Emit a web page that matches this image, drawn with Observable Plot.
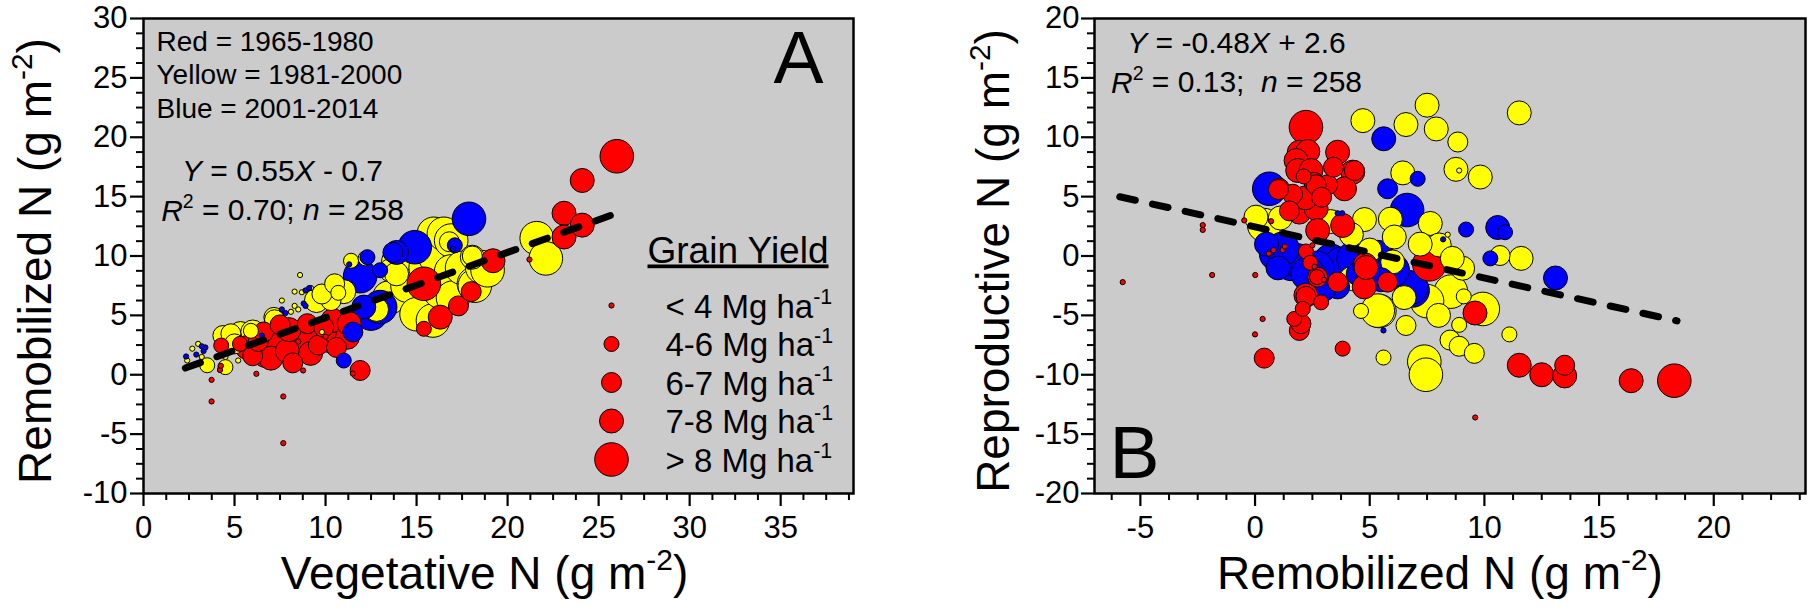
<!DOCTYPE html>
<html><head><meta charset="utf-8">
<script src="https://cdn.jsdelivr.net/npm/d3@7"></script>
<script src="https://cdn.jsdelivr.net/npm/@observablehq/plot@0.6"></script>
<style>
html,body{margin:0;padding:0;background:#fff;overflow:hidden}
#wrap{display:flex;width:1813px;height:609px}
svg{display:block}
</style></head><body><div id="wrap"></div>
<script>
// ---------- data: [x, y, grain-yield class 0..4] ----------
// Panel A: Vegetative N (x) vs Remobilized N (y)
const aRed = [
  [3.74,-0.43,0],[3.74,-2.25,0],[7.68,-1.83,0],[7.68,-5.76,0],[6.2,0.08,0],[8.77,0.36,0],[4.2,0.4,0],[4.25,0.75,0],[11.5,0.1,0],[21.2,9.7,0],[8.5,2.8,0],[10.0,3.2,0],
  [11.9,0.36,2],[4.27,2.46,1],[5.3,2.6,1],
  [5.7,2.3,3],[6.0,1.6,2],[6.3,2.8,2],[6.8,2.0,4],[7.0,1.4,3],[7.35,3.47,4],[6.6,3.6,2],[7.5,4.2,2],[7.9,2.0,3],[8.2,1.0,2],[8.0,3.8,3],[8.63,3.16,4],[9.0,4.3,2],[9.18,1.8,3],[9.6,2.5,2],[9.9,4.0,2],[10.2,2.88,3],[10.6,2.3,2],[10.4,4.57,3],[10.8,3.7,4],[11.2,3.16,3],[11.3,4.3,3],
  [15.4,7.66,4],[16.3,4.85,3],[15.4,3.87,1],[17.3,5.8,2],[18.0,7.0,2],[19.2,9.6,3],[23.1,13.6,3],[23.1,11.6,3],[24.1,12.6,3],[24.1,16.36,3],[26.0,18.4,4]
];
const aYellow = [
  [2.68,2.2,0],[3.2,1.5,0],[3.0,2.6,0],[2.4,1.2,0],[4.5,1.5,0],[5.2,1.2,0],[7.6,6.25,0],[8.7,6.95,0],[8.3,5.8,0],[8.1,5.3,0],[8.5,5.5,0],[9.2,7.3,0],[8.3,7.0,0],[8.6,8.4,0],[9.8,3.6,0],
  [3.5,0.8,1],[4.5,0.64,1],[5.9,3.7,1],[10.7,6.9,1],[11.4,9.6,1],[12.2,9.8,1],
  [4.36,3.3,2],[4.8,3.45,2],[5.0,2.6,2],[7.16,4.83,2],[7.2,4.63,2],[10.3,6.25,2],[9.8,6.8,2],[10.5,7.66,2],[16.8,11.2,2],[18.06,10.0,2],
  [5.33,3.47,3],[6.0,3.6,3],[9.5,6.25,3],[11.0,7.0,3],[12.8,5.5,3],[13.6,8.8,3],[13.9,8.5,3],[18.06,9.9,3],
  [13.5,6.5,4],[14.0,9.5,4],[14.5,7.5,4],[14.8,10.2,4],[15.0,5.1,4],[15.5,9.0,4],[15.9,4.57,4],[15.95,11.87,4],[16.0,10.0,4],[16.3,7.0,4],[16.5,11.87,4],[16.9,11.3,4],[16.9,8.7,4],[17.0,6.5,4],[17.5,9.0,4],[18.15,7.66,4],[18.2,7.5,4],[18.6,9.06,4],[18.9,8.8,4],[21.6,11.5,4],[22.1,9.8,4]
];
const aBlue = [
  [2.34,1.54,0],[2.9,1.7,0],[3.3,2.0,0],[3.4,2.3,0],[3.2,2.4,0],[6.5,3.3,0],[7.6,5.5,0],[7.8,5.2,0],[8.8,6.0,0],[8.9,5.8,0],[8.9,7.1,0],[9.1,7.3,0],[11.3,9.3,0],[17.0,10.6,0],
  [11.0,1.2,1],[12.3,9.9,1],[13.0,8.8,1],[17.1,10.9,1],
  [11.5,3.6,2],[13.7,10.3,2],
  [12.1,5.7,3],[13.9,10.3,3],
  [11.9,8.3,4],[12.5,5.15,4],[13.0,5.7,4],[14.9,10.74,4],[17.88,13.13,4]
];
// Panel B: Remobilized N (x) vs Reproductive N (y)
const bRed = [
  [-5.77,-2.2,0],[-2.28,2.6,0],[-2.28,2.2,0],[-1.87,-1.6,0],[0.01,-1.6,0],[-0.47,3.0,0],[0.7,2.93,0],[0.8,0.5,0],[1.2,0.5,0],[0.6,0.2,0],[1.3,0.8,0],[0.33,-5.3,0],[0.0,-6.6,0],[9.6,-13.6,0],[2.5,0.9,0],[2.6,-0.9,0],[3.0,-2.0,0],
  [2.12,6.7,1],[2.22,0.38,1],[2.41,-0.57,1],[2.7,-1.78,1],[3.82,-7.8,1],[1.71,-5.3,1],[2.08,-4.45,1],[2.88,-3.9,1],
  [1.06,5.7,2],[1.64,5.2,2],[1.5,3.8,2],[2.57,6.2,2],[3.17,6.0,2],[2.66,6.0,2],[2.9,4.95,2],[3.42,7.48,2],[1.02,5.6,2],[2.22,-3.4,2],[1.93,-6.27,2],[3.6,-2.2,2],[5.78,-2.2,2],[13.5,-9.2,2],[2.73,-1.78,2],[0.4,-8.6,2],[2.0,-5.7,2],[4.33,7.2,2],
  [1.93,8.74,3],[2.3,8.8,3],[1.79,8.04,3],[1.86,7.2,3],[2.44,7.2,3],[3.6,8.74,3],[4.26,7.06,3],[3.9,5.66,3],[1.93,3.7,3],[2.66,4.0,3],[3.82,2.57,3],[2.73,2.15,3],[4.8,-0.75,3],[4.76,-2.6,3],[4.84,-0.97,3],[9.59,-4.8,3],[11.52,-9.2,3],[12.5,-10.0,3],[13.5,-10.1,3],[16.4,-10.5,3],[2.22,-3.3,3],[2.2,4.9,3],
  [2.22,10.85,4],[7.6,-0.7,4],[18.28,-10.5,4]
];
const bYellow = [
  [8.9,7.2,0],[8.4,1.8,0],
  [4.62,-4.63,1],[5.6,-8.55,1],[11.09,-6.6,1],[8.9,-5.8,1],[9.1,-3.4,1],
  [10.68,0.04,2],[8.84,9.6,2],[8.5,-7.08,2],[8.9,-7.6,2],[9.56,-8.2,2],[6.58,-5.85,2],
  [11.52,12.05,3],[7.5,12.7,3],[7.9,10.7,3],[6.58,11.07,3],[4.7,11.4,3],[8.76,7.3,3],[9.82,6.65,3],[6.44,7.0,3],[4.77,3.07,3],[5.9,3.1,3],[7.64,2.74,3],[6.07,1.6,3],[8.03,0.93,3],[11.6,-0.2,3],[9.05,-1.03,3],[0.04,3.27,3],[1.1,3.2,3],[6.5,-3.5,3],[3.3,2.9,3],[4.2,1.8,3],
  [5.0,0.5,3],[7.2,1.0,3],[8.6,-0.2,3],[6.0,-0.5,3],[4.2,-1.9,3],[8.0,-5.0,3],
  [8.54,-3.0,4],[9.93,-4.46,4],[5.42,-4.63,4],[7.38,-8.9,4],[7.45,-10.0,4],[5.35,-4.6,4],[0.4,2.6,4],[7.5,-3.8,4]
];
const bBlue = [
  [5.6,-6.27,0],[3.6,3.6,0],[3.8,3.6,0],[8.2,1.4,0],
  [7.09,6.5,1],[10.26,-0.2,1],[9.2,2.23,1],[10.9,2.0,1],
  [5.78,5.66,2],
  [5.61,9.87,3],[10.58,2.4,3],[13.1,-1.85,3],[3.6,-2.6,3],[0.5,1.0,3],[4.5,-1.5,3],[3.0,-2.8,3],[1.0,-1.0,3],[5.5,-2.0,3],
  [0.62,5.66,4],[0.92,0.18,4],[1.57,-0.66,4],[1.86,-0.38,4],[3.3,-0.4,4],[3.75,-0.66,4],[5.35,-0.1,4],[6.87,-2.9,4],[6.63,3.87,4],[6.8,-2.65,4],[2.7,-1.0,4],
  [1.2,0.6,4],[2.3,-1.5,4],[4.3,-0.2,4],[6.0,-1.2,4]
];
// regression lines (slope, intercept, x extent)
const fitA = {slope: 0.55, intercept: -0.7, x0: 2.3, x1: 25.7};
const fitB = {slope: -0.43, intercept: 2.45, x0: -5.9, x1: 18.4};
// texts
const eraLabels = ["Red = 1965-1980", "Yellow = 1981-2000", "Blue = 2001-2014"];
const eqA = ["*Y* = 0.55*X* - 0.7", "*R*^2^ = 0.70; *n* = 258"];
const eqB = ["*Y* = -0.48*X* + 2.6", "*R*^2^ = 0.13;\u00a0 *n* = 258"];
const legendTitle = "_Grain Yield_";
const legendLabels = ["< 4 Mg ha^-1^", "4-6 Mg ha^-1^", "6-7 Mg ha^-1^", "7-8 Mg ha^-1^", "> 8 Mg ha^-1^"];
const ticksA = {x: [0,5,10,15,20,25,30,35], y: [-10,-5,0,5,10,15,20,25,30]};
const ticksB = {x: [-5,0,5,10,15,20], y: [-20,-15,-10,-5,0,5,10,15,20]};

// ---------- styles ----------
const radii = [2.6, 7.5, 10, 12, 16.8];
const fills = {red: "#ff0000", yellow: "#ffff00", blue: "#0000ff"};
const FONT = "'Liberation Sans', Arial, Helvetica, sans-serif";

function rows(yellow, blue, red) {
  const f = (arr, k) => arr.map(([x, y, c]) => ({x, y, c, k}));
  return [...f(yellow, "yellow"), ...f(blue, "blue"), ...f(red, "red")];
}
function fitLine(f) {
  return [f.x0, f.x1].map(x => ({x, y: f.slope * x + f.intercept}));
}
function minor(domain, majors) {
  const out = [];
  for (let v = Math.ceil(domain[0] / 1.25) * 1.25; v <= domain[1] + 1e-9; v += 1.25) {
    if (!majors.some(m => Math.abs(m - v) < 1e-6)) out.push(+v.toFixed(2));
  }
  return out;
}
const note = (t, o) => Plot.text([t], {text: d => d, lineAnchor: "bottom", fill: "black", ...o});

function richText(svg) {
  d3.select(svg).selectAll("text").each(function () {
    const el = this;
    if (el.querySelector("tspan")) return;
    const s = el.textContent;
    if (!/[\^*_]/.test(s)) return;
    const parts = s.split(/(\^[^^]*\^|\*[^*]*\*|_[^_]*_)/).filter(p => p !== "");
    el.textContent = "";
    let raised = false;
    for (const p of parts) {
      const t = document.createElementNS("http://www.w3.org/2000/svg", "tspan");
      if (p[0] === "^") {
        t.textContent = p.slice(1, -1);
        t.setAttribute("font-size", "65%");
        t.setAttribute("dy", "-0.62em");
        raised = true;
      } else {
        if (p[0] === "*") { t.textContent = p.slice(1, -1); t.setAttribute("font-style", "italic"); }
        else if (p[0] === "_") { t.textContent = p.slice(1, -1); t.setAttribute("text-decoration", "underline"); }
        else t.textContent = p;
        if (raised) { t.setAttribute("dy", "0.40em"); raised = false; }
      }
      el.appendChild(t);
    }
  });
  return svg;
}

function panel(cfg) {
  const xMinor = minor(cfg.xDomain, cfg.ticks.x);
  const yMinor = minor(cfg.yDomain, cfg.ticks.y);
  const marks = [
    Plot.frame({fill: "#cbcbcb"}),
    Plot.dot(cfg.data, {x: "x", y: "y", r: d => radii[d.c], fill: d => fills[d.k], stroke: "black", strokeWidth: 1, sort: {channel: "-r"}}),
    Plot.line(cfg.fit, {x: "x", y: "y", stroke: "black", strokeWidth: 7, strokeDasharray: "16,17.5", strokeLinecap: "round"}),
    Plot.frame({stroke: "black", strokeWidth: 2.5}),
    Plot.axisX({ticks: cfg.ticks.x, tickFormat: d => String(d), tickSize: 13, tickPadding: 9, fontSize: 31, strokeWidth: 2.2, label: null, fill: "black", stroke: "black"}),
    Plot.axisX(xMinor, {tickSize: 7, text: null, strokeWidth: 2, label: null, stroke: "black"}),
    Plot.axisY({ticks: cfg.ticks.y, tickFormat: d => String(d), tickSize: 13, tickPadding: cfg.yPad, fontSize: 31, strokeWidth: 2.2, label: null, fill: "black", stroke: "black"}),
    Plot.axisY(yMinor, {tickSize: 7, text: null, strokeWidth: 2, label: null, stroke: "black"}),
    note(cfg.xTitle, {frameAnchor: "bottom", textAnchor: "middle", dx: cfg.xTitleDx, dy: 95, fontSize: 46}),
    note(cfg.yTitle, {frameAnchor: "left", textAnchor: "middle", rotate: -90, dx: cfg.yTitleDx, dy: 5, fontSize: 46}),
    ...cfg.extra
  ];
  return richText(Plot.plot({
    width: cfg.width, height: 609,
    marginLeft: cfg.ml, marginRight: cfg.mr, marginTop: 18, marginBottom: 116,
    x: {domain: cfg.xDomain}, y: {domain: cfg.yDomain},
    r: {type: "identity"}, color: {type: "identity"},
    style: {fontFamily: FONT, color: "black", background: "transparent", overflow: "visible"},
    marks
  }));
}

const extraA = [
  ...eraLabels.map((t, i) => note(t, {frameAnchor: "top-left", textAnchor: "start", dx: 13, dy: 32 + i * 33.5, fontSize: 28})),
  ...eqA.map((t, i) => note(t, {frameAnchor: "top-left", textAnchor: "middle", dx: 139, dy: 162 + i * 40, fontSize: 30})),
  note("A", {frameAnchor: "top-right", textAnchor: "end", dx: -30, dy: 64, fontSize: 75}),
  note(legendTitle, {frameAnchor: "top-left", textAnchor: "start", dx: 504, dy: 244, fontSize: 37}),
  ...legendLabels.map((t, i) => note(t, {frameAnchor: "top-left", textAnchor: "start", dx: 522, dy: 299 + i * 38.5, fontSize: 33})),
  ...legendLabels.map((t, i) => Plot.dot([t], {frameAnchor: "top-left", dx: 468, dy: 287 + i * 38.5, r: radii[i], fill: fills.red, stroke: "black", strokeWidth: 1}))
];
const extraB = [
  ...eqB.map((t, i) => note(t, {frameAnchor: "top-left", textAnchor: "middle", dx: 142, dy: 34 + i * 40, fontSize: 30})),
  note("B", {frameAnchor: "bottom-left", textAnchor: "start", dx: 15, dy: -16, fontSize: 75})
];

const wrap = document.getElementById("wrap");
wrap.appendChild(panel({
  width: 906, ml: 143, mr: 53, xDomain: [0, 39], yDomain: [-10, 30], ticks: ticksA, yPad: 3,
  data: rows(aYellow, aBlue, aRed), fit: fitLine(fitA),
  xTitle: "Vegetative N (g m^-2^)", xTitleDx: -14,
  yTitle: "Remobilized N (g m^-2^)", yTitleDx: -93,
  extra: extraA
}));
wrap.appendChild(panel({
  width: 907, ml: 188, mr: 8, xDomain: [-7, 24], yDomain: [-20, 20], ticks: ticksB, yPad: 2,
  data: rows(bYellow, bBlue, bRed), fit: fitLine(fitB),
  xTitle: "Remobilized N (g m^-2^)", xTitleDx: -10,
  yTitle: "Reproductive N (g m^-2^)", yTitleDx: -86,
  extra: extraB
}));
</script></body></html>
